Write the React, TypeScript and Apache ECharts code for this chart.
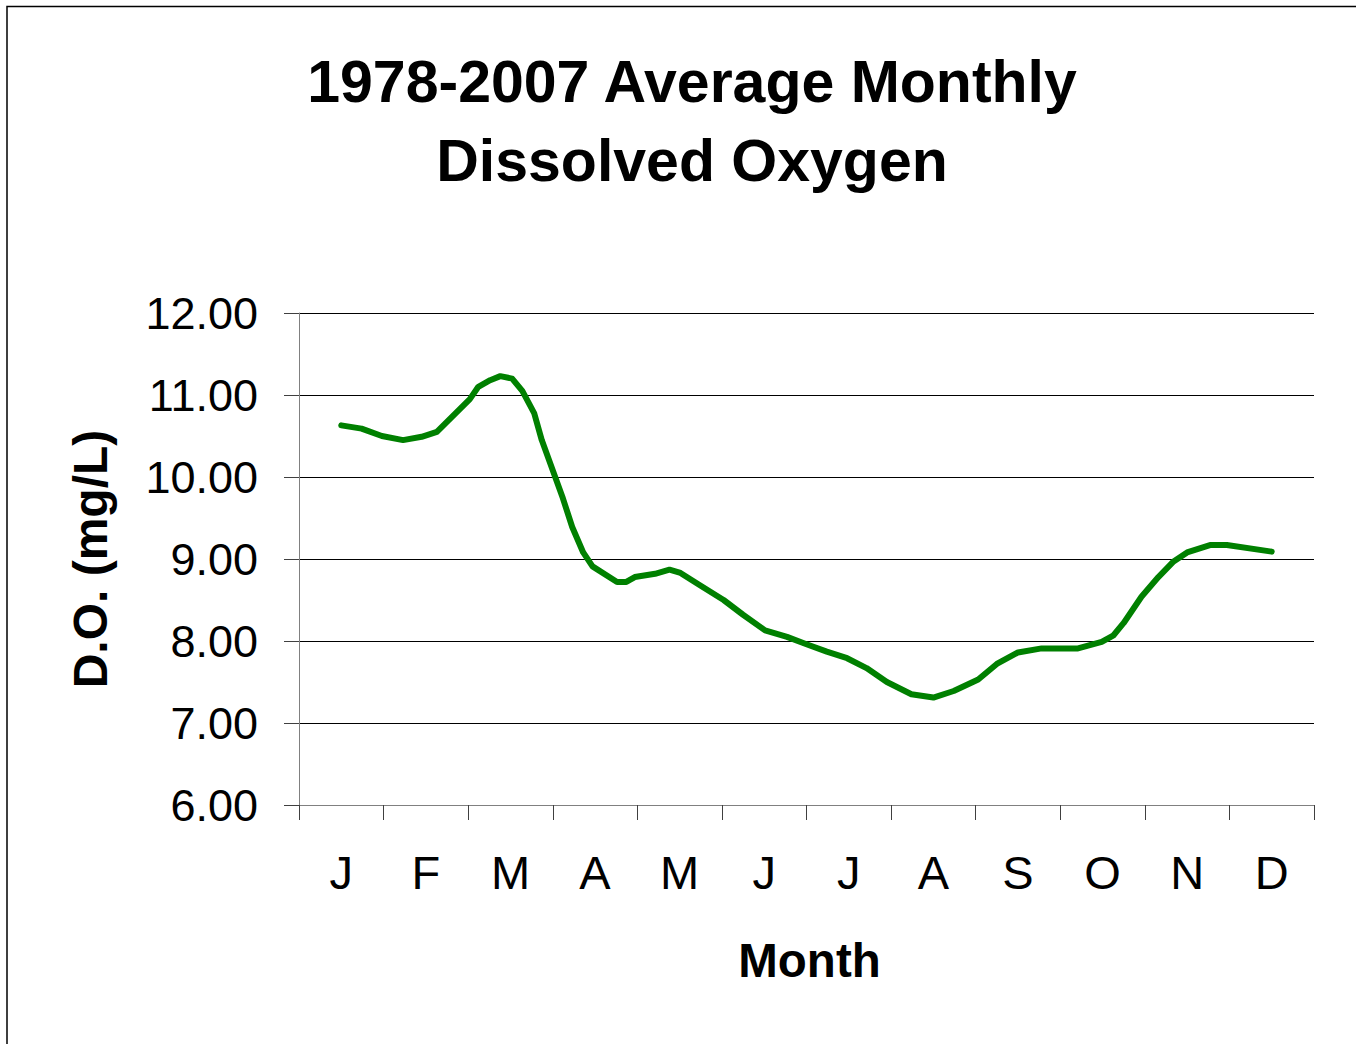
import React, { useEffect, useRef } from "react";
import * as echarts from "echarts";

const monthKeys = ["Jan", "Feb", "Mar", "Apr", "May", "Jun", "Jul", "Aug", "Sep", "Oct", "Nov", "Dec"];
const monthLabels = ["J", "F", "M", "A", "M", "J", "J", "A", "S", "O", "N", "D"];

// position along the year, in months (0 = start of Jan, 12 = end of Dec)
const positions = [
  0.5, 0.74, 0.98, 1.23, 1.45, 1.63, 2.02, 2.12, 2.26, 2.38, 2.52, 2.64, 2.78, 2.87,
  3.12, 3.23, 3.36, 3.47, 3.76, 3.87, 3.97, 4.21, 4.38, 4.51, 4.74, 5.02, 5.25, 5.51,
  5.77, 6.0, 6.24, 6.48, 6.71, 6.95, 7.24, 7.5, 7.74, 8.03, 8.25, 8.5, 8.78, 9.21,
  9.49, 9.63, 9.75, 9.96, 10.16, 10.34, 10.5, 10.77, 10.97, 11.5,
];
const doValues = [
  10.63, 10.59, 10.5, 10.45, 10.49, 10.55, 10.95, 11.1, 11.18, 11.23, 11.2, 11.05, 10.78, 10.45,
  9.74, 9.39, 9.08, 8.91, 8.72, 8.72, 8.78, 8.82, 8.87, 8.83, 8.68, 8.5, 8.32, 8.13,
  8.05, 7.96, 7.87, 7.79, 7.67, 7.5, 7.35, 7.31, 7.39, 7.53, 7.72, 7.86, 7.91, 7.91,
  7.99, 8.07, 8.22, 8.54, 8.78, 8.97, 9.08, 9.17, 9.17, 9.09,
];

const yMin = 6;
const yMax = 12;
const yStep = 1;

const FONT = "'Liberation Sans', Arial, sans-serif";

export default function App() {
  const ref = useRef<HTMLDivElement>(null);

  useEffect(() => {
    if (!ref.current) return;
    const chart = echarts.init(ref.current, null, { renderer: "svg" });
    const lineData = positions.map((p, i) => [p, doValues[i]]);

    chart.setOption({
      animation: false,
      backgroundColor: "#ffffff",
      textStyle: { fontFamily: FONT },
      title: {
        text: "1978-2007 Average Monthly\nDissolved Oxygen",
        left: 692,
        top: 42,
        padding: 0,
        textAlign: "center",
        textStyle: {
          fontFamily: FONT,
          fontSize: 59,
          fontWeight: "bold",
          color: "#000000",
          lineHeight: 79,
        },
      },
      graphic: [
        {
          type: "rect",
          shape: { x: 7, y: 6.5, width: 1500, height: 1200 },
          style: { fill: "none", stroke: "#000000", lineWidth: 1.5 },
          silent: true,
        },
      ],
      grid: { left: 299, right: 42, top: 313, bottom: 239, containLabel: false },
      xAxis: [
        {
          type: "category",
          data: monthKeys,
          boundaryGap: true,
          name: "Month",
          nameLocation: "middle",
          nameGap: 131,
          nameTextStyle: { fontFamily: FONT, fontSize: 47.5, fontWeight: "bold", color: "#000", padding: [0, 0, 0, 6] },
          axisLine: { show: true, lineStyle: { color: "#808080", width: 1 } },
          axisTick: { show: true, interval: 0, length: 15, alignWithLabel: false, lineStyle: { color: "#404040", width: 1 } },
          axisLabel: {
            interval: 0,
            margin: 44,
            fontFamily: FONT,
            fontSize: 47,
            color: "#000",
            formatter: (_v: string, i: number) => monthLabels[i],
          },
          splitLine: { show: false },
        },
        {
          type: "value",
          min: 0,
          max: 12,
          show: false,
          splitLine: { show: false },
        },
      ],
      yAxis: {
        type: "value",
        min: yMin,
        max: yMax,
        interval: yStep,
        name: "D.O. (mg/L)",
        nameLocation: "middle",
        nameGap: 185,
        nameRotate: 90,
        nameTextStyle: { fontFamily: FONT, fontSize: 48, fontWeight: "bold", color: "#000" },
        axisLine: { show: true, lineStyle: { color: "#808080", width: 1 } },
        axisTick: { show: true, length: 15, lineStyle: { color: "#404040", width: 1 } },
        axisLabel: {
          margin: 41,
          fontFamily: FONT,
          fontSize: 45,
          color: "#000",
          formatter: (v: number) => v.toFixed(2),
        },
        splitLine: { show: true, lineStyle: { color: "#000000", width: 1 } },
      },
      series: [
        {
          type: "line",
          xAxisIndex: 1,
          data: lineData,
          smooth: false,
          showSymbol: false,
          symbol: "none",
          lineStyle: { color: "#008000", width: 6, cap: "round", join: "round" },
        },
      ],
    });

    return () => chart.dispose();
  }, []);

  return (
    <div
      ref={ref}
      style={{ position: "fixed", left: 0, top: 0, width: 1356, height: 1044, background: "#fff" }}
    />
  );
}
